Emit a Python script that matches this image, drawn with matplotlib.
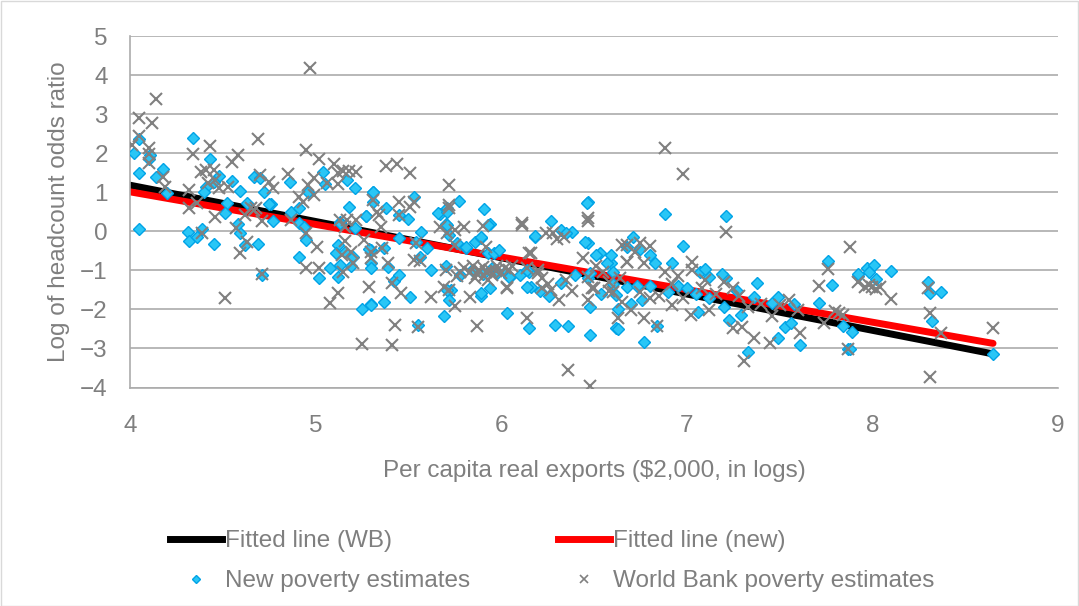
import matplotlib
matplotlib.use("Agg")
import matplotlib.pyplot as plt
from matplotlib.lines import Line2D
from matplotlib.patches import Rectangle

plt.rcParams['font.family'] = ['Liberation Sans', 'DejaVu Sans']

# ---- data ----
fit_x = [4.0, 8.65]
fit_wb = [1.18, -3.14]
fit_new = [1.01, -2.87]

new_x = [4.05, 4.02, 4.11, 4.10, 4.05, 4.34, 4.43, 4.48, 4.45, 4.14, 4.18, 4.20, 4.41, 4.40, 4.55,
         5.04, 5.05, 4.86, 4.96, 4.67, 4.70, 4.72, 4.76, 4.63, 4.59, 4.52, 4.51, 4.87, 4.91, 5.13,
         5.18, 5.27, 5.31, 5.31, 5.17, 5.21, 4.05, 4.31, 4.32, 4.36, 4.39, 4.45, 4.59, 4.58, 4.62,
         4.69, 4.71, 4.77, 4.75, 4.91, 4.94, 4.95, 4.91, 5.02, 5.08, 5.12, 5.13, 5.12, 5.11, 5.16,
         5.20, 5.19, 5.13, 5.21, 5.27, 5.30, 5.30, 5.30, 5.25,
         5.31, 5.38, 5.45, 5.50, 5.53, 5.67, 5.71, 5.77, 5.91, 5.70, 6.27, 6.47, 5.94, 5.29, 5.30,
         5.30, 5.37, 5.39, 5.42, 5.45, 5.51, 5.37, 5.55, 5.45, 5.54, 5.57, 5.56, 5.60, 5.62, 5.66,
         5.71, 5.71, 5.72, 5.76, 5.70, 5.73, 5.72, 5.69, 5.81, 5.86, 5.93, 5.89, 5.93, 5.96, 5.89,
         5.94, 6.03, 6.05, 6.10, 6.15, 6.15, 6.16, 6.18, 6.32, 6.38, 6.21, 6.26, 6.29, 6.36, 6.46,
         6.47, 6.53, 6.59, 6.47, 6.54, 6.48, 6.48, 6.62, 5.84, 5.95, 6.02, 5.90,
         5.89, 5.81, 6.18, 6.35, 6.45, 6.51, 6.57, 6.71, 6.48, 6.60, 6.40, 6.32, 6.14, 6.04, 5.98,
         5.78, 5.71, 5.89, 6.14, 6.62, 6.68, 5.99,
         6.88, 7.21, 6.98, 6.68, 6.75, 6.59, 6.80, 6.83, 6.92, 7.07, 7.12, 7.10, 7.21, 7.19, 7.38,
         7.36, 7.27, 7.20, 7.23, 7.29, 7.33, 6.77, 6.84, 6.63, 6.63, 6.60, 6.70, 6.76, 6.73, 6.80,
         6.90, 6.95, 7.00, 7.05, 7.06, 7.12, 7.46, 7.49, 7.49, 7.53, 7.56, 7.58, 7.61, 7.71, 7.76,
         7.78, 7.84, 7.87, 7.89, 7.92,
         7.92, 7.97, 8.01, 7.98, 8.02, 8.10, 8.30, 8.31, 8.37, 8.32, 8.65, 7.88]
new_y = [2.35, 2.01, 1.95, 1.85, 1.48, 2.38, 1.85, 1.42, 1.27, 1.40, 1.59, 0.99, 1.14, 1.01, 1.29,
         1.51, 1.20, 1.27, 1.01, 1.40, 1.37, 1.01, 0.70, 0.72, 1.04, 0.72, 0.46, 0.50, 0.59, 0.25,
         0.63, 0.39, 1.01, 0.76, 1.31, 1.12, 0.05, -0.03, -0.24, -0.14, 0.05, -0.33, -0.05, 0.19, -0.35,
         -0.33, -1.11, 0.27, 0.70, 0.20, 0.12, -0.22, -0.65, -1.20, -0.95, -1.16, -0.86, -0.35, -0.56, -0.52,
         -0.65, -0.88, 0.20, 0.08, 0.40, -0.48, -0.82, -1.87, -2.00,
         1.00, 0.60, 0.42, 0.31, 0.88, 0.43, 0.59, 0.78, 0.56, 0.18, 0.26, 0.76, 0.18, -0.46, -0.95,
         -1.88, -0.42, -0.92, -1.28, -1.12, -1.69, -1.82, -2.40, -0.18, -0.27, -0.03, -0.65, -0.43, -0.99, 0.46,
         0.16, 0.50, -0.09, -0.31, -0.90, -1.50, -1.76, -2.18, -0.44, -0.27, 0.16, -0.18, -0.56, -0.56, -1.65,
         -1.46, -2.08, -1.16, -1.12, -1.03, -2.48, -1.42, -0.14, 0.03, -0.01, -1.54, -1.65, -2.40, -2.42, 0.73,
         -0.31, -0.56, -0.82, -1.20, -1.61, -1.95, -2.65, -2.48, -1.00, -0.95, -1.05, -1.10,
         -0.15, -0.39, -0.12, -0.05, -0.27, -0.61, -0.82, -0.14, -1.07, -1.03, -1.12, -1.33, -0.99, -1.16, -1.07,
         -1.12, -1.50, -1.58, -1.42, -1.63, -1.42, -0.48,
         0.44, 0.40, -0.38, -0.40, -0.45, -0.61, -0.61, -0.82, -0.82, -1.05, -1.16, -0.97, -1.20, -1.10, -1.33,
         -1.69, -1.52, -1.93, -2.27, -2.14, -3.09, -2.84, -2.42, -2.50, -2.00, -1.35, -1.85, -1.76, -1.40, -1.40,
         -1.55, -1.40, -1.45, -1.60, -2.06, -1.70, -1.84, -1.69, -2.74, -2.44, -2.35, -1.85, -2.91, -1.83, -0.75,
         -1.37, -2.42, -3.01, -2.59, -1.15,
         -1.10, -0.93, -0.86, -1.05, -1.22, -1.02, -1.31, -1.59, -1.56, -2.29, -3.14, -3.02]

wb_x = [4.97, 4.14, 4.05, 4.12, 4.05, 4.01, 4.10, 4.10, 4.10, 4.34, 4.43, 4.41, 4.45, 4.38, 4.46,
        4.42, 4.18, 4.19, 4.32, 4.32, 4.36, 4.48, 4.53, 4.55, 4.58, 4.69, 4.95, 5.02, 5.10, 5.15,
        5.18, 5.22, 5.12, 5.06, 4.99, 4.96, 4.85, 4.91, 4.70, 4.75, 4.77, 4.65, 4.46, 4.68, 4.93,
        4.99, 5.12, 5.17, 4.39, 4.59, 4.57, 4.62, 4.63, 4.67, 4.71, 4.71, 4.51, 4.87, 4.95, 5.01,
        4.95, 5.02, 5.12, 5.08, 5.15, 5.16, 5.14, 5.19, 5.20, 5.13, 5.16, 5.22, 5.26, 5.30, 5.29,
        5.25, 5.41,
        5.38, 5.44, 5.51, 5.72, 5.31, 5.33, 5.34, 5.45, 5.51, 5.53, 5.72, 5.80, 6.11, 6.47, 6.47,
        5.45, 5.35, 5.30, 5.36, 5.39, 5.41, 5.46, 5.43, 5.55, 5.54, 5.56, 5.53, 5.62, 5.67, 5.72,
        5.75, 5.69, 5.75, 5.70,
        5.80, 5.83, 5.85, 5.87, 5.88, 5.90, 5.91, 5.92, 5.94, 5.95, 5.97, 5.98, 6.00, 6.02, 6.04,
        5.86, 5.93, 5.78, 5.76, 6.06,
        5.90, 5.87, 6.03, 6.16, 6.14, 6.11, 6.28, 6.30, 6.34, 6.20, 6.22, 6.25, 6.27, 6.31, 6.36,
        6.48, 6.51, 6.49, 6.47, 6.58, 6.55,
        5.71, 5.75, 5.92, 6.15, 6.24, 6.44, 6.68, 6.65, 6.72, 6.14, 6.20, 6.22, 6.35, 6.38, 6.47,
        6.50, 6.58, 6.64, 6.03, 5.83, 5.72,
        6.88, 6.98, 7.21, 6.68, 6.75, 6.80, 7.88, 6.68, 6.77, 7.03, 7.03, 7.10, 7.20, 7.25, 7.30,
        7.25, 7.36, 7.31, 6.84, 6.63, 6.65, 6.60, 6.70, 6.77, 6.80, 6.75, 6.85, 6.92, 6.98, 7.02,
        7.12, 7.16, 7.28, 7.33, 7.40, 7.46, 7.45, 7.50, 7.55, 7.60, 7.61, 7.71, 7.76, 7.74, 7.80,
        7.82, 7.84, 7.87, 7.92, 6.92, 6.95, 7.08, 6.88,
        7.98, 8.00, 8.02, 7.96, 8.04, 8.10, 8.30, 8.31, 8.37, 8.31, 8.65]
wb_y = [4.19, 3.38, 2.90, 2.76, 2.45, 2.21, 2.14, 1.99, 1.74, 1.97, 2.18, 1.57, 1.57, 1.52, 1.31,
        1.23, 1.40, 1.14, 1.06, 0.59, 0.72, 1.10, 1.14, 1.78, 1.95, 2.35, 2.07, 1.84, 1.72, 1.55,
        1.55, 1.52, 1.48, 1.23, 1.36, 1.18, 1.46, 0.88, 1.44, 1.27, 1.12, 0.59, 0.37, 0.59, 0.75,
        0.93, 1.20, 0.29, -0.05, -0.56, 0.08, 0.42, -0.27, 0.54, 0.27, -1.09, -1.71, 0.29, -0.05, -0.41,
        -0.93, -0.95, -1.57, -1.83, -1.05, -0.24, -0.60, -0.52, -0.82, 0.29, 0.10, 0.29, -0.22, -0.69, -1.43,
        -2.89, -2.91,
        1.68, 1.72, 1.50, 1.18, 0.80, 0.50, 0.42, 0.76, 0.63, 0.75, 0.67, 0.10, 0.20, 0.33, 0.27,
        0.42, 0.12, -0.52, -0.44, -0.82, -1.33, -1.59, -2.41, -2.46, -0.30, -0.75, -0.73, -1.67, 0.12, 0.60,
        0.03, -1.42, -1.91, -1.00,
        -0.95, -1.05, -0.90, -1.10, -1.00, -0.92, -1.15, -1.05, -0.98, -1.12, -1.02, -0.88, -1.08, -0.95, -1.00,
        -1.20, -1.25, -1.05, -1.15, -0.88,
        0.13, -2.42, -1.43, -0.56, -2.22, 0.16, -0.05, -0.20, -0.15, -1.00, -1.20, -1.35, -1.50, -1.76, -3.55,
        -3.96, -0.90, -1.46, -1.76, -1.30, -1.05,
        -0.05, -0.35, -0.39, -0.56, -0.05, -0.69, -0.78, -0.35, -0.52, -0.94, -1.07, -1.45, -1.25, -1.54, -1.16,
        -1.45, -1.54, -1.20, -1.45, -1.67, -1.50,
        2.12, 1.46, -0.01, -0.35, -0.29, -0.38, -0.39, -0.78, -0.82, -0.78, -0.98, -1.25, -1.30, -1.45, -2.44,
        -2.48, -2.74, -3.33, -2.42, -2.22, -1.80, -1.55, -2.01, -2.22, -1.71, -1.55, -1.65, -1.90, -1.70, -2.14,
        -2.01, -1.60, -1.65, -1.95, -1.85, -2.18, -2.86, -1.90, -1.75, -2.01, -2.61, -1.40, -0.97, -2.35, -2.05,
        -2.10, -2.14, -3.01, -1.29, -1.35, -1.15, -1.45, -1.05,
        -1.38, -1.42, -1.48, -1.42, -1.42, -1.73, -1.46, -2.10, -2.61, -3.73, -2.48]

x_ticks = [4, 5, 6, 7, 8, 9]
y_ticks = [-4, -3, -2, -1, 0, 1, 2, 3, 4, 5]

grey_txt = '#7F7F7F'
grid_c = '#ABABAB'
FS = 17.5

fig = plt.figure(figsize=(10.79, 6.06), dpi=100)
ax = fig.add_axes([130 / 1079, 1 - 387.5 / 606, 928 / 1079, 351.5 / 606])

ax.plot(fit_x, fit_wb, color='black', lw=5, solid_capstyle='round', zorder=2)
ax.plot(fit_x, fit_new, color='#FF0000', lw=5, solid_capstyle='round', zorder=2)
ax.plot(new_x, new_y, linestyle='none', marker='D', markersize=6,
        markerfacecolor='#29C6F6', markeredgecolor='#00A3E6', markeredgewidth=1.0, zorder=3)
ax.plot(wb_x, wb_y, linestyle='none', marker='x', markersize=8,
        color='#808080', markeredgewidth=1.5, zorder=4)

ax.set_xlim(4, 9)
ax.set_ylim(-4, 5)
ax.set_xticks(x_ticks)
ax.set_yticks(y_ticks)
ax.yaxis.grid(True, color=grid_c, lw=1.2)
ax.set_axisbelow(True)
for s in ['top', 'right']:
    ax.spines[s].set_visible(False)
for s in ['left', 'bottom']:
    ax.spines[s].set_color(grid_c)
    ax.spines[s].set_linewidth(1.2)
ax.tick_params(axis='both', length=0, labelsize=FS, labelcolor=grey_txt)
ax.tick_params(axis='y', pad=16)
ax.tick_params(axis='x', pad=20)

ax.set_xlabel('Per capita real exports ($2,000, in logs)', fontsize=FS, color=grey_txt)
ax.set_ylabel('Log of headcount odds ratio', fontsize=FS, color=grey_txt)
ax.xaxis.set_label_coords(0.5, -0.207)
ax.yaxis.set_label_coords(-0.065, 0.5)

h_wbline = Line2D([], [], color='black', lw=5)
h_newline = Line2D([], [], color='#FF0000', lw=5)
h_newpts = Line2D([], [], linestyle='none', marker='D', markersize=4.5,
                  markerfacecolor='#29C6F6', markeredgecolor='#00A3E6')
h_wbpts = Line2D([], [], linestyle='none', marker='x', markersize=6,
                 color='#808080', markeredgewidth=1.2)
leg = fig.legend([h_wbline, h_newpts, h_newline, h_wbpts],
                 ['Fitted line (WB)', 'New poverty estimates',
                  'Fitted line (new)', 'World Bank poverty estimates'],
                 ncol=2, loc='upper left', bbox_to_anchor=(170 / 1079, 1 - 530 / 606),
                 frameon=False, fontsize=FS, handlelength=2.15, handletextpad=0.12,
                 columnspacing=3.6, labelspacing=0.74, borderpad=0, borderaxespad=0)
for t in leg.get_texts():
    t.set_color(grey_txt)

fig.patches.append(Rectangle((0.5 / 1079, 0.5 / 606), 1 - 1.5 / 1079, 1 - 1.5 / 606,
                             transform=fig.transFigure, fill=False,
                             edgecolor='#D9D9D9', lw=1))

fig.savefig('out.png', dpi=100)
